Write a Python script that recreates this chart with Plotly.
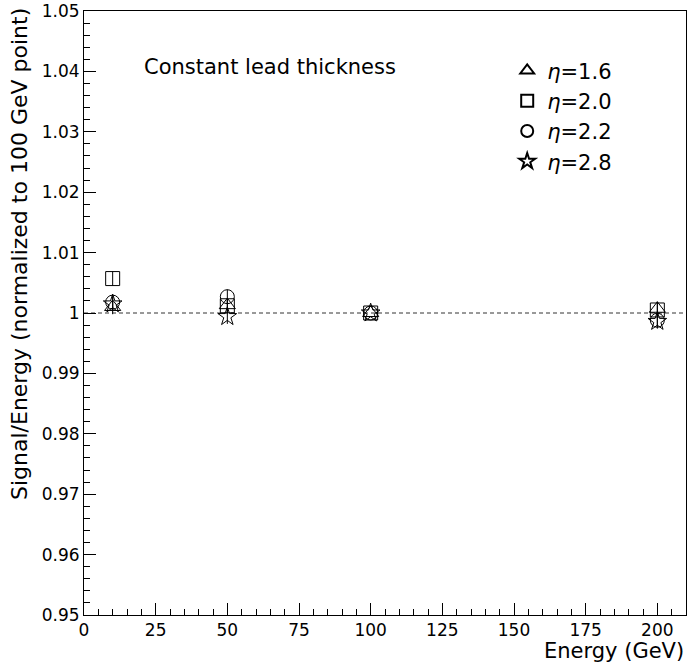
import plotly.graph_objects as go

energy = [10, 50, 100, 200]
eta16 = [1.0010, 1.0013, 1.0000, 1.0007]
eta20 = [1.0057, 1.0012, 1.0000, 1.0005]
eta22 = [1.0018, 1.0027, 1.0000, 0.9988]
eta28 = [1.0015, 0.9994, 1.0000, 0.9986]
err = [0.0012, 0.0012, 0.0, 0.0012]

series = [
    ("<i>η</i>=1.6", eta16, "triangle-up-open"),
    ("<i>η</i>=2.0", eta20, "square-open"),
    ("<i>η</i>=2.2", eta22, "circle-open"),
    ("<i>η</i>=2.8", eta28, "star-open"),
]

y_tickvals = [0.95, 0.96, 0.97, 0.98, 0.99, 1.0, 1.01, 1.02, 1.03, 1.04, 1.05]
y_ticktext = ["0.95", "0.96", "0.97", "0.98", "0.99", "1", "1.01", "1.02", "1.03", "1.04", "1.05"]
x_tickvals = [0, 25, 50, 75, 100, 125, 150, 175, 200]

FONT = "DejaVu Sans"

fig = go.Figure()
for i, (name, vals, sym) in enumerate(series):
    fig.add_trace(go.Scatter(
        x=energy, y=vals, mode="markers", name=name,
        legendgroup=f"g{i}",
        marker=dict(symbol=sym, size=14, color="black", line=dict(color="black", width=1)),
        error_y=dict(type="data", array=err, thickness=1, width=0, color="black"),
    ))

fig.add_shape(type="line", xref="x", yref="y", x0=0, x1=210, y0=1.0, y1=1.0,
              line=dict(color="#333", width=1, dash="4px,3px"), layer="below")

fig.add_annotation(text="Constant lead thickness", xref="paper", yref="paper",
                   x=0.096, y=0.907, xanchor="left", yanchor="middle", showarrow=False,
                   font=dict(family=FONT, size=21, color="black"))
fig.add_annotation(text="Signal/Energy (normalized to 100 GeV point)", xref="paper", yref="paper",
                   x=-0.106, y=0.598, xanchor="center", yanchor="middle", textangle=-90, showarrow=False,
                   font=dict(family=FONT, size=22, color="black"))
fig.add_annotation(text="Energy (GeV)", xref="paper", yref="paper",
                   x=1.0, y=-0.06, xanchor="right", yanchor="middle", showarrow=False,
                   font=dict(family=FONT, size=21, color="black"))

fig.update_layout(
    width=688, height=666,
    margin=dict(l=84, r=2, t=11, b=51),
    plot_bgcolor="white", paper_bgcolor="white",
    font=dict(family=FONT, size=17, color="black"),
    showlegend=True,
    legend=dict(x=0.703, y=0.935, xanchor="left", yanchor="top",
                bgcolor="rgba(0,0,0,0)", font=dict(family=FONT, size=21, color="black"),
                traceorder="grouped", tracegroupgap=0, itemsizing="constant"),
    xaxis=dict(range=[0, 210], tickvals=x_tickvals, ticks="inside", ticklen=12,
               tickcolor="black", showline=True, linecolor="black", linewidth=1, mirror=True,
               showgrid=False, zeroline=False, automargin=False,
               minor=dict(dtick=5, ticks="inside", ticklen=6, tickcolor="black")),
    yaxis=dict(range=[0.95, 1.05], tickvals=y_tickvals, ticktext=y_ticktext, ticks="inside", ticklen=12,
               tickcolor="black", showline=True, linecolor="black", linewidth=1, mirror=True,
               showgrid=False, zeroline=False, automargin=False,
               minor=dict(dtick=0.002, tick0=0.95, ticks="inside", ticklen=6, tickcolor="black")),
)

fig.write_html("out.html", config={"displayModeBar": False},
               post_script="document.body.style.margin='0';")
